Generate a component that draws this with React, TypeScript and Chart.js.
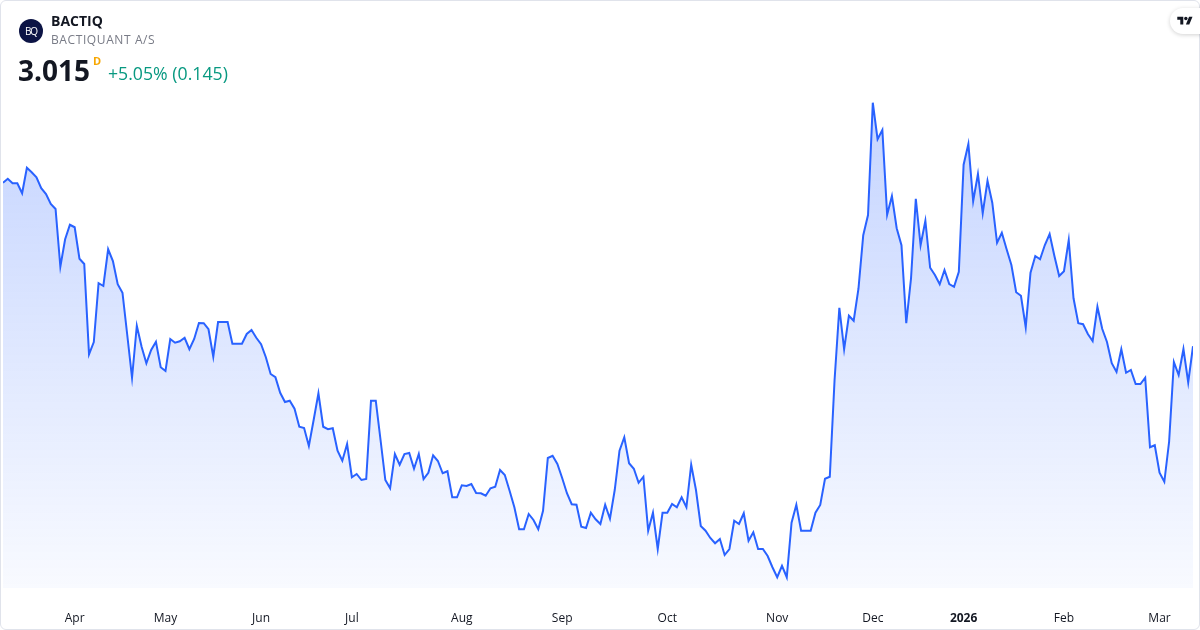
import React, { useEffect, useRef } from "react";
import { Chart, registerables } from "chart.js";

Chart.register(...registerables);

// Daily closing prices (BACTIQ)
const closes: number[] = [
  3.669, 3.685, 3.667, 3.667, 3.627, 3.729, 3.711, 3.691, 3.647, 3.624,
  3.584, 3.564, 3.333, 3.443, 3.501, 3.491, 3.365, 3.344, 2.983, 3.032,
  3.267, 3.256, 3.403, 3.356, 3.263, 3.229, 3.06, 2.889, 3.097, 3.013,
  2.947, 3.0, 3.033, 2.931, 2.916, 3.044, 3.029, 3.035, 3.049, 3.003,
  3.044, 3.108, 3.107, 3.083, 2.973, 3.112, 3.112, 3.112, 3.025, 3.025,
  3.025, 3.064, 3.08, 3.049, 3.023, 2.971, 2.904, 2.891, 2.829,
  2.792, 2.797, 2.765, 2.693, 2.688, 2.616, 2.72, 2.827, 2.693, 2.683,
  2.687, 2.597, 2.557, 2.624, 2.491, 2.504, 2.48, 2.484, 2.797, 2.797,
  2.64, 2.48, 2.447, 2.584, 2.541, 2.584, 2.588, 2.525, 2.584, 2.484,
  2.509, 2.579, 2.556, 2.507, 2.515, 2.411, 2.411, 2.459, 2.456, 2.464,
  2.428, 2.427, 2.417, 2.447, 2.453, 2.52, 2.5, 2.437, 2.371, 2.283,
  2.283, 2.344, 2.32, 2.283, 2.357, 2.568, 2.577, 2.544, 2.488, 2.427,
  2.383, 2.381, 2.293, 2.288, 2.349, 2.323, 2.304,
  2.381, 2.325, 2.44, 2.597, 2.651, 2.547, 2.525, 2.469, 2.493, 2.277,
  2.349, 2.204, 2.349, 2.349, 2.384, 2.371, 2.411, 2.371, 2.541, 2.44,
  2.296, 2.277, 2.248, 2.227, 2.244, 2.18, 2.204, 2.317, 2.304, 2.347,
  2.237, 2.271, 2.204, 2.204, 2.176, 2.131, 2.091, 2.137, 2.091, 2.309,
  2.381, 2.277, 2.277, 2.277, 2.349, 2.38, 2.485, 2.493,
  2.88, 3.169, 3.003, 3.137, 3.117, 3.245, 3.459, 3.54, 3.989, 3.843,
  3.88, 3.541, 3.616, 3.487, 3.419, 3.107, 3.287, 3.605, 3.419, 3.517,
  3.329, 3.3, 3.263, 3.32, 3.264, 3.253, 3.313,
  3.741, 3.824, 3.595, 3.704, 3.547, 3.677, 3.589, 3.429, 3.469, 3.403,
  3.34, 3.231, 3.217, 3.091, 3.309, 3.376, 3.363, 3.42, 3.464, 3.376,
  3.296, 3.315, 3.44, 3.207, 3.107, 3.103, 3.064, 3.036, 3.173, 3.085,
  3.032, 2.947, 2.912, 3.003, 2.909, 2.92, 2.864, 2.864, 2.889, 2.611,
  2.619, 2.509, 2.473, 2.633, 2.952, 2.9, 3.004, 2.87, 3.015,
];

// Time-axis labels and the trading-day index where each month starts
const tickLabels: string[] = ["Apr", "May", "Jun", "Jul", "Aug", "Sep", "Oct", "Nov", "Dec", "2026", "Feb", "Mar"];
const tickIndex: number[] = [15, 34, 54, 73, 96, 117, 139, 162, 182, 201, 222, 242];

const FONT = "'Open Sans', 'Noto Sans', sans-serif";

export default function App() {
  const canvasRef = useRef<HTMLCanvasElement | null>(null);

  useEffect(() => {
    document.body.style.margin = "0";
    const canvas = canvasRef.current;
    if (!canvas) return;
    const points = closes.map((v, i) => ({ x: i, y: v }));
    const chart = new Chart(canvas, {
      type: "line",
      data: {
        datasets: [
          {
            data: points,
            borderColor: "#2962FF",
            borderWidth: 2,
            pointRadius: 0,
            pointHoverRadius: 0,
            tension: 0,
            fill: "start",
            backgroundColor: (ctx: any) => {
              const c = ctx.chart;
              const area = c.chartArea;
              if (!area) return "rgba(41,98,255,0.2)";
              const g = c.ctx.createLinearGradient(0, area.top, 0, area.bottom);
              g.addColorStop(0, "rgba(41,98,255,0.28)");
              g.addColorStop(1, "rgba(41,98,255,0.03)");
              return g;
            },
          },
        ],
      },
      options: {
        responsive: false,
        animation: false,
        devicePixelRatio: 1,
        layout: { padding: { top: 90, left: 3, right: 7, bottom: 0 } },
        plugins: { legend: { display: false }, tooltip: { enabled: false } },
        scales: {
          x: {
            type: "linear",
            min: 0,
            max: closes.length - 1,
            grid: { display: false, drawTicks: false },
            border: { display: false },
            afterFit: (s: any) => {
              s.height = 42;
            },
            afterBuildTicks: (s: any) => {
              s.ticks = tickIndex.map((v) => ({ value: v }));
            },
            ticks: {
              autoSkip: false,
              maxRotation: 0,
              padding: 23,
              color: "#131722",
              font: (ctx: any) => {
                const lbl = ctx.tick ? tickLabels[tickIndex.indexOf(ctx.tick.value)] : "";
                return { family: FONT, size: 12, weight: lbl === "2026" ? "bold" : "normal" };
              },
              callback: (value: any) => {
                const k = tickIndex.indexOf(Number(value));
                return k >= 0 ? tickLabels[k] : "";
              },
            },
          },
          y: { display: false, min: 2.048, max: 4.04 },
        },
      },
    });
    return () => chart.destroy();
  }, []);

  return (
    <div
      style={{
        position: "relative",
        width: 1200,
        height: 630,
        overflow: "hidden",
        background: "#ffffff",
        fontFamily: FONT,
      }}
    >
      <canvas ref={canvasRef} width={1200} height={630} style={{ position: "absolute", left: 0, top: 0 }} />
      <div
        style={{
          position: "absolute",
          left: 0,
          top: 0,
          width: 1198,
          height: 628,
          border: "1px solid #e0e3eb",
          borderRadius: 6,
          pointerEvents: "none",
        }}
      />
      <div
        style={{
          position: "absolute",
          left: 19,
          top: 19,
          width: 24,
          height: 24,
          borderRadius: 12,
          background: "#0c1445",
          color: "#ffffff",
          fontSize: 10,
          lineHeight: "24px",
          textAlign: "center",
          letterSpacing: -1,
        }}
      >
        BQ
      </div>
      <div style={{ position: "absolute", left: 51, top: 12, fontSize: 14, fontWeight: 700, color: "#131722", lineHeight: "18px" }}>
        BACTIQ
      </div>
      <div style={{ position: "absolute", left: 51, top: 31, fontSize: 12, color: "#787b86", lineHeight: "18px", letterSpacing: 0.6 }}>
        BACTIQUANT A/S
      </div>
      <div style={{ position: "absolute", left: 18, top: 52, fontSize: 28, fontWeight: 700, color: "#131722", lineHeight: "36px" }}>
        3.015
      </div>
      <div style={{ position: "absolute", left: 93, top: 54, fontSize: 11, fontWeight: 700, color: "#f7a600", lineHeight: "14px" }}>
        D
      </div>
      <div style={{ position: "absolute", left: 108, top: 61, fontSize: 17.7, color: "#089981", lineHeight: "24px" }}>
        +5.05% (0.145)
      </div>
      <div
        style={{
          position: "absolute",
          left: 1170,
          top: 8,
          width: 44,
          height: 26,
          borderRadius: 13,
          background: "#ffffff",
          boxShadow: "0 1px 4px rgba(0,0,0,0.18)",
        }}
      >
        <svg width="18" height="12" viewBox="0 0 36 28" style={{ position: "absolute", left: 6, top: 7 }}>
          <path d="M14 22H7V11H0V4h14v18z" fill="#131722" />
          <circle cx="20" cy="8" r="4" fill="#131722" />
          <path d="M28 22h-8l7.5-18h8L28 22z" fill="#131722" />
        </svg>
      </div>
    </div>
  );
}
